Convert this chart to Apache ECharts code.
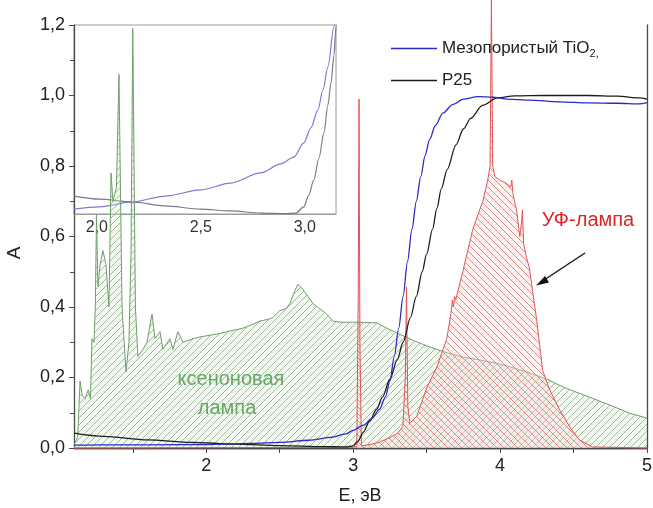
<!DOCTYPE html>
<html>
<head>
<meta charset="utf-8">
<script src="https://cdn.jsdelivr.net/npm/echarts@6/dist/echarts.min.js"></script>
<style>
  html, body { margin: 0; padding: 0; background: #fff; }
  #chart { width: 653px; height: 508px; }
</style>
</head>
<body>
<div id="chart"></div>
<script>
// Xenon lamp emission (scaled), photon energy in eV
const xenonE = [1.10, 1.125, 1.141, 1.155, 1.175, 1.197, 1.212, 1.222, 1.236, 1.245, 1.253, 1.263, 1.277, 1.297,
  1.318, 1.338, 1.352, 1.365, 1.389, 1.406, 1.427, 1.454, 1.474, 1.488, 1.500, 1.518, 1.535, 1.569, 1.597,
  1.631, 1.651, 1.685, 1.705, 1.753, 1.773, 1.807, 1.841, 1.91, 1.957, 2.025, 2.093, 2.14, 2.195, 2.25,
  2.311, 2.365, 2.42, 2.454, 2.50, 2.542, 2.57, 2.597, 2.624, 2.658, 2.692, 2.726, 2.773, 2.82, 2.862,
  2.91, 3.025, 3.16, 3.23, 3.30, 3.41, 3.52, 3.64, 3.746, 3.86, 3.977, 4.086, 4.20, 4.32, 4.43, 4.54,
  4.66, 4.77, 4.88, 5.0];
const xenonA = [0.01, 0.03, 0.19, 0.15, 0.14, 0.165, 0.14, 0.31, 0.30, 0.40, 0.66, 0.46, 0.52, 0.56,
  0.52, 0.40, 0.78, 0.70, 0.74, 1.06, 0.40, 0.216, 0.30, 0.55, 1.19, 0.40, 0.26, 0.28, 0.30,
  0.38, 0.31, 0.33, 0.28, 0.31, 0.28, 0.33, 0.30, 0.31, 0.315, 0.32, 0.325, 0.33, 0.335, 0.34,
  0.35, 0.36, 0.365, 0.37, 0.39, 0.395, 0.41, 0.44, 0.465, 0.45, 0.43, 0.41, 0.395, 0.38, 0.36,
  0.357, 0.357, 0.355, 0.34, 0.326, 0.305, 0.287, 0.27, 0.258, 0.25, 0.24, 0.228, 0.213, 0.195, 0.173, 0.155,
  0.136, 0.118, 0.099, 0.085];

// UV lamp emission (scaled)
const uvE = [1.10, 3.00, 3.025, 3.035, 3.040, 3.046, 3.056, 3.12, 3.18, 3.24, 3.297, 3.338, 3.355, 3.363,
  3.372, 3.386, 3.433, 3.50, 3.57, 3.637, 3.665, 3.675, 3.683, 3.69, 3.698, 3.746, 3.814, 3.882, 3.916,
  3.932, 3.941, 3.950, 3.964, 3.998, 4.046, 4.072, 4.080, 4.088, 4.114, 4.134, 4.146, 4.152, 4.160, 4.18,
  4.20, 4.223, 4.25, 4.27, 4.29, 4.338, 4.406, 4.474, 4.54, 4.63, 5.0];
const uvA = [0.0, 0.002, 0.005, 0.45, 0.99, 0.30, 0.006, 0.01, 0.017, 0.028, 0.04, 0.06, 0.20, 0.457,
  0.12, 0.07, 0.09, 0.17, 0.23, 0.31, 0.38, 0.42, 0.40, 0.43, 0.42, 0.50, 0.62, 0.70, 0.76,
  0.80, 1.27, 0.80, 0.77, 0.76, 0.75, 0.74, 0.76, 0.72, 0.67, 0.60, 0.64, 0.675, 0.58, 0.54,
  0.51, 0.44, 0.36, 0.29, 0.22, 0.165, 0.108, 0.06, 0.023, 0.003, 0.0];

// Absorbance of mesoporous TiO2
const mesoE = [1.10, 1.3, 1.6, 2.0, 2.3, 2.5, 2.7, 2.85, 2.95, 3.0, 3.07, 3.13, 3.18, 3.22, 3.25, 3.28,
  3.31, 3.34, 3.37, 3.40, 3.43, 3.46, 3.49, 3.52, 3.56, 3.61, 3.68, 3.75, 3.85, 3.95, 4.05, 4.2, 4.4,
  4.6, 4.8, 4.95, 5.0];
const mesoA = [0.008, 0.009, 0.009, 0.010, 0.013, 0.016, 0.022, 0.03, 0.04, 0.05, 0.065, 0.085, 0.11, 0.145,
  0.19, 0.26, 0.34, 0.43, 0.53, 0.62, 0.70, 0.77, 0.83, 0.875, 0.915, 0.95, 0.975, 0.99, 0.997, 0.995,
  0.99, 0.987, 0.982, 0.979, 0.978, 0.976, 0.98];

// Absorbance of P25
const p25E = [1.10, 1.3, 1.6, 1.9, 2.2, 2.5, 2.8, 2.95, 3.0, 3.03, 3.07, 3.11, 3.16, 3.20, 3.25, 3.30,
  3.34, 3.39, 3.43, 3.47, 3.50, 3.54, 3.57, 3.60, 3.64, 3.70, 3.75, 3.80, 3.88, 3.98, 4.1, 4.3, 4.6,
  4.8, 4.95, 5.0];
const p25A = [0.042, 0.033, 0.023, 0.016, 0.011, 0.007, 0.004, 0.003, 0.006, 0.018, 0.045, 0.075, 0.11,
  0.145, 0.195, 0.25, 0.30, 0.37, 0.43, 0.50, 0.55, 0.62, 0.68, 0.735, 0.79, 0.86, 0.905, 0.935, 0.972,
  0.993, 0.999, 1.0, 1.0, 0.998, 0.993, 0.99];

// Inset: absorption edge region, enlarged
const insetMesoE = [1.89, 2.014, 2.169, 2.329, 2.498, 2.643, 2.787, 2.884, 2.947, 2.995, 3.029, 3.063,
  3.087, 3.111, 3.14, 3.16];
const insetMesoA = [0.0021, 0.0030, 0.0051, 0.0076, 0.0102, 0.0131, 0.0174, 0.0212, 0.0241, 0.0301,
  0.0364, 0.044, 0.0525, 0.0622, 0.0792, 0.0906];
const insetP25E = [1.89, 2.014, 2.169, 2.329, 2.498, 2.643, 2.787, 2.908, 2.957, 2.995, 3.019, 3.043,
  3.068, 3.092, 3.111, 3.126, 3.14, 3.15, 3.16];
const insetP25A = [0.0076, 0.0063, 0.0051, 0.0034, 0.0021, 0.0013, 0.0004, 0.0002, 0.0004, 0.003, 0.008,
  0.0144, 0.0237, 0.0343, 0.0461, 0.0555, 0.0673, 0.079, 0.0906];

// Axis ticks
const xMajorTicks = [2, 3, 4, 5];
const xAllTicks = [1.5, 2, 2.5, 3, 3.5, 4, 4.5, 5];
const insetTicks = [2.0, 2.5, 3.0];

const FONT = '"Liberation Sans", Arial, sans-serif';
const zip = (xs, ys) => xs.map((x, i) => [x, ys[i]]);
const comma = (v, d) => v.toFixed(d).replace('.', ',');

// Diagonal hatch tile used as area fill
function hatch(lineColor, bg, forward) {
  const s = 7;
  const c = document.createElement('canvas');
  c.width = s; c.height = s;
  const g = c.getContext('2d');
  g.fillStyle = bg;
  g.fillRect(0, 0, s, s);
  g.strokeStyle = lineColor;
  g.lineWidth = 1;
  g.beginPath();
  if (forward) {
    g.moveTo(0, s); g.lineTo(s, 0);
    g.moveTo(-1, 1); g.lineTo(1, -1);
    g.moveTo(s - 1, s + 1); g.lineTo(s + 1, s - 1);
  } else {
    g.moveTo(0, 0); g.lineTo(s, s);
    g.moveTo(s - 1, -1); g.lineTo(s + 1, 1);
    g.moveTo(-1, s - 1); g.lineTo(1, s + 1);
  }
  g.stroke();
  return c;
}

const greenHatch = hatch('rgba(125,165,120,0.7)', 'rgba(220,236,215,0.35)', true);
const redHatch = hatch('rgba(215,100,100,0.7)', 'rgba(250,218,218,0.35)', false);

const chart = echarts.init(document.getElementById('chart'), null, { renderer: 'canvas' });

const axisColor = '#4a4a4a';
const MESO = 'Мезопористый TiO2,';

chart.setOption({
  animation: false,
  backgroundColor: '#fff',
  textStyle: { fontFamily: FONT },
  grid: [
    { left: 74, top: 25, width: 573, height: 423, outerBoundsMode: 'none', containLabel: false },
    { left: 74, top: 25, width: 262, height: 189, outerBoundsMode: 'none', containLabel: false,
      show: true, borderColor: '#9a9a9a', borderWidth: 1, backgroundColor: 'transparent' }
  ],
  legend: {
    data: [MESO, 'P25'],
    orient: 'vertical',
    left: 386, top: 35,
    itemWidth: 46, itemHeight: 1.5, itemGap: 13,
    icon: 'rect',
    formatter: name => name === 'P25' ? '{t|P25}' : '{t|Мезопористый TiO}{s|2,}',
    textStyle: {
      rich: {
        t: { fontSize: 17, color: '#222', fontFamily: FONT },
        s: { fontSize: 11, color: '#222', fontFamily: FONT, padding: [10, 0, 0, 0] }
      }
    }
  },
  xAxis: [
    {
      gridIndex: 0, type: 'value', min: 1.1, max: 5, position: 'bottom',
      axisLine: { lineStyle: { color: axisColor, width: 1.3 } },
      axisTick: { show: true, customValues: xAllTicks, length: 5, lineStyle: { color: axisColor } },
      axisLabel: { customValues: xMajorTicks, fontSize: 18, color: '#222', margin: 9, fontFamily: FONT },
      splitLine: { show: false }
    },
    {
      gridIndex: 0, type: 'value', min: 1.1, max: 5, position: 'top',
      axisLine: { lineStyle: { color: axisColor, width: 1.3 } },
      axisTick: { show: true, inside: true, customValues: xAllTicks, length: 4, lineStyle: { color: axisColor } },
      axisLabel: { show: false },
      splitLine: { show: false }
    },
    {
      gridIndex: 1, type: 'value', min: 1.89, max: 3.15, position: 'bottom',
      axisLine: { lineStyle: { color: '#9a9a9a', width: 1 } },
      axisTick: { show: false },
      axisLabel: { customValues: insetTicks, fontSize: 16, color: '#333', margin: 6, fontFamily: FONT,
        formatter: v => comma(v, 1) },
      splitLine: { show: false }
    }
  ],
  yAxis: [
    {
      gridIndex: 0, type: 'value', min: 0, max: 1.2, interval: 0.2, position: 'left',
      axisLine: { show: true, lineStyle: { color: axisColor, width: 1.3 } },
      axisTick: { show: true, length: 5, lineStyle: { color: axisColor } },
      minorTick: { show: true, splitNumber: 2, length: 4, lineStyle: { color: axisColor } },
      axisLabel: { fontSize: 18, color: '#222', margin: 9, fontFamily: FONT, formatter: v => comma(v, 1) },
      splitLine: { show: false }
    },
    {
      gridIndex: 0, type: 'value', min: 0, max: 1.2, interval: 0.2, position: 'right',
      axisLine: { show: true, lineStyle: { color: axisColor, width: 1.3 } },
      axisTick: { show: false },
      axisLabel: { show: false },
      splitLine: { show: false }
    },
    {
      gridIndex: 1, type: 'value', min: 0, max: 0.08, show: false,
      splitLine: { show: false }
    }
  ],
  series: [
    {
      name: 'ксеноновая лампа', type: 'line', xAxisIndex: 0, yAxisIndex: 0,
      data: zip(xenonE, xenonA), showSymbol: false, symbol: 'none',
      lineStyle: { color: 'rgb(110,160,105)', width: 1 },
      itemStyle: { color: 'rgb(110,160,105)' },
      areaStyle: { color: { image: greenHatch, repeat: 'repeat' }, opacity: 1 },
      z: 2
    },
    {
      name: 'УФ-лампа', type: 'line', xAxisIndex: 0, yAxisIndex: 0,
      data: zip(uvE, uvA), showSymbol: false, symbol: 'none', clip: false,
      lineStyle: { color: 'rgb(225,85,85)', width: 1 },
      itemStyle: { color: 'rgb(225,85,85)' },
      areaStyle: { color: { image: redHatch, repeat: 'repeat' }, opacity: 1 },
      z: 3
    },
    {
      name: 'P25', type: 'line', xAxisIndex: 0, yAxisIndex: 0,
      data: zip(p25E, p25A), showSymbol: false, symbol: 'none',
      smooth: 0.3, smoothMonotone: 'x',
      lineStyle: { color: '#1c1c1c', width: 1.3 },
      itemStyle: { color: '#1c1c1c' },
      z: 4
    },
    {
      name: MESO, type: 'line', xAxisIndex: 0, yAxisIndex: 0,
      data: zip(mesoE, mesoA), showSymbol: false, symbol: 'none',
      smooth: 0.3, smoothMonotone: 'x',
      lineStyle: { color: '#2a2ac8', width: 1.3 },
      itemStyle: { color: '#2a2ac8' },
      z: 5
    },
    {
      name: 'inset-meso', type: 'line', xAxisIndex: 2, yAxisIndex: 2,
      data: zip(insetMesoE, insetMesoA), showSymbol: false, symbol: 'none',
      smooth: 0.3, smoothMonotone: 'x', clip: true,
      lineStyle: { color: '#7a7ad8', width: 1.2 },
      z: 1
    },
    {
      name: 'inset-p25', type: 'line', xAxisIndex: 2, yAxisIndex: 2,
      data: zip(insetP25E, insetP25A), showSymbol: false, symbol: 'none',
      smooth: 0.3, smoothMonotone: 'x', clip: true,
      lineStyle: { color: '#7a7a86', width: 1.2 },
      z: 1
    }
  ],
  graphic: [
    { type: 'text', x: 15, y: 253, rotation: Math.PI / 2,
      style: { text: 'A', font: '19px ' + FONT, fill: '#222', align: 'center', verticalAlign: 'middle' } },
    { type: 'text', x: 360, y: 496,
      style: { text: 'E, эВ', font: '18px ' + FONT, fill: '#222', align: 'center', verticalAlign: 'middle' } },
    { type: 'text', x: 231, y: 379,
      style: { text: 'ксеноновая', font: '20px ' + FONT, fill: 'rgb(35,135,35)', align: 'center', verticalAlign: 'middle' } },
    { type: 'text', x: 227, y: 408,
      style: { text: 'лампа', font: '20px ' + FONT, fill: 'rgb(35,135,35)', align: 'center', verticalAlign: 'middle' } },
    { type: 'text', x: 588, y: 220,
      style: { text: 'УФ-лампа', font: '20px ' + FONT, fill: 'rgb(225,35,35)', align: 'center', verticalAlign: 'middle' } },
    { type: 'line', shape: { x1: 585, y1: 253, x2: 541, y2: 282 },
      style: { stroke: '#111', lineWidth: 1.3 } },
    { type: 'polygon', shape: { points: [[536, 285.5], [545, 276], [549, 282.5]] },
      style: { fill: '#111' } }
  ]
});
</script>
</body>
</html>
